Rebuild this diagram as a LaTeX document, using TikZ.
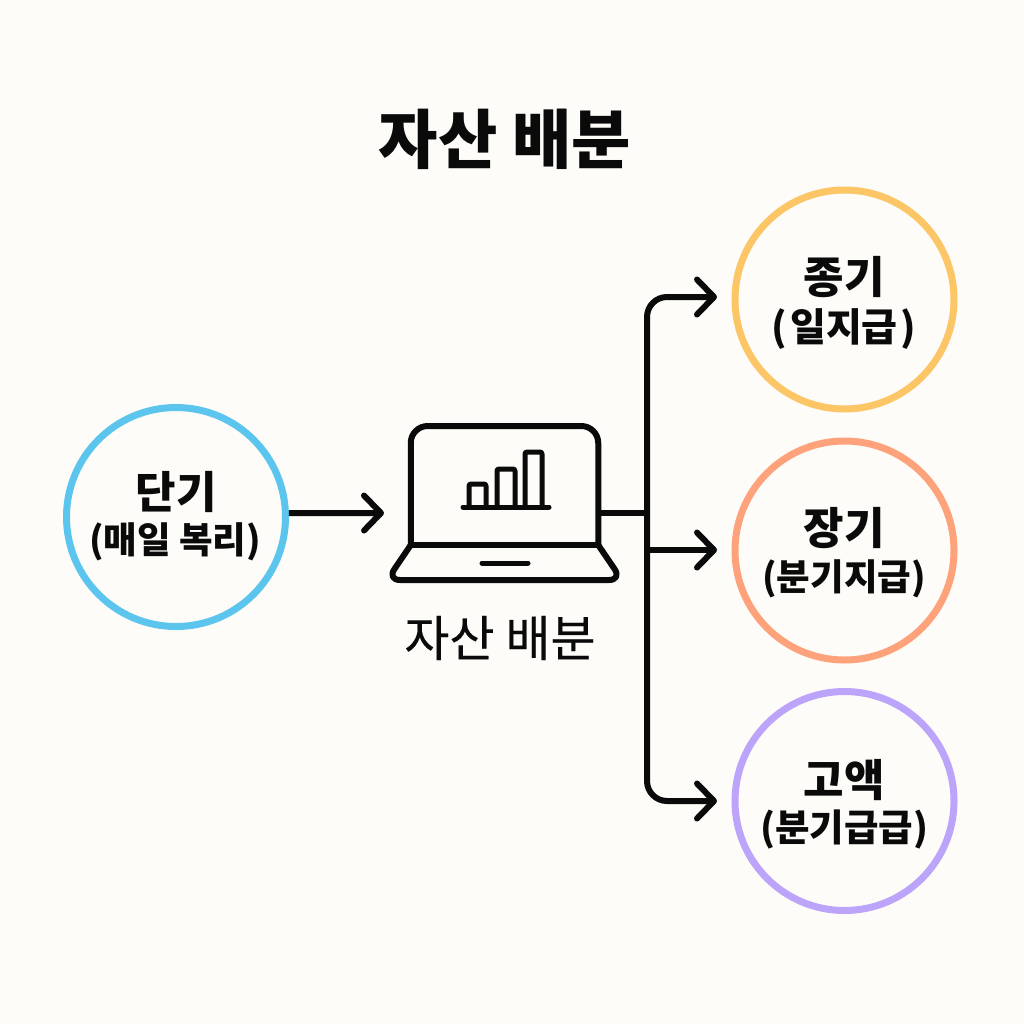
\documentclass[tikz,border=0pt]{standalone}
\usepackage{fontspec}
\setmainfont{Noto Sans CJK KR}
\newfontfamily\krlbl[FakeBold=0.25]{Noto Sans CJK KR}
\usetikzlibrary{arrows.meta}
\definecolor{paper}{HTML}{FDFCF8}
\definecolor{ink}{HTML}{0A0A0A}
\definecolor{cblue}{HTML}{5CC5EE}
\definecolor{cyellow}{HTML}{FCC566}
\definecolor{corange}{HTML}{FDA27A}
\definecolor{cpurple}{HTML}{BBA4F9}
\tikzset{
  ring/.style={circle,draw=#1,line width=7pt,minimum size=219pt,inner sep=0pt,outer sep=0pt},
  headtext/.style={font=\bfseries\fontsize{44}{44}\selectfont,text=ink,inner sep=0pt,anchor=center},
  subtext/.style={font=\bfseries\fontsize{#1}{#1}\selectfont,text=ink,inner sep=0pt,anchor=center},
  subtext/.default=36.5,
  icon/.style={draw=ink,line width=6pt,line cap=round,line join=round},
  flow/.style={draw=ink,line width=6pt,line join=round},
  barbtip/.style={-{Straight Barb[round,length=17pt,width=35pt,line width=6pt]}}
}
\begin{document}
\begin{tikzpicture}[x=1pt,y=-1pt]
\useasboundingbox (0,0) rectangle (1024,1024);
\fill[paper] (0,0) rectangle (1024,1024);
\node[font=\bfseries\fontsize{64.5}{64.5}\selectfont,text=ink,inner sep=0pt] (title) at (505,139.5) {자산 배분};
% rings
\node[ring=cblue] (short) at (176,517) {};
\node[ring=cyellow] (mid) at (844.5,299.5) {};
\node[ring=corange] (long) at (844.5,550.5) {};
\node[ring=cpurple] (big) at (844.5,801) {};
\node[headtext] (t1) at (176,492) {단기};
\node[subtext] (s1) at (175,542) {(매일 복리)};
\node[headtext] (t2) at (844,277) {종기};
\node[subtext=39] (s2) at (844,329) {(\hspace{3pt}일지급\hspace{3pt})};
\node[headtext] (t3) at (844,528) {장기};
\node[subtext] (s3) at (844,579) {(분기지급)};
\node[headtext] (t4) at (844,780) {고액};
\node[subtext=37.5] (s4) at (844,830) {(분기급급)};
% laptop
\node[rectangle,minimum width=187.5pt,minimum height=119pt,inner sep=0pt,outer sep=0pt] (screen) at (504.5,485.5) {};
\draw[icon,rounded corners=17pt] (screen.south west) -- (screen.north west) -- (screen.north east) -- (screen.south east);
\draw[icon,rounded corners=13pt] (screen.south west) -- (387,580) -- (622,580) -- (screen.south east);
\draw[icon] (screen.south west) -- (screen.south east);
\draw[icon,line width=5pt] (482,563) -- (528,563);
\draw[icon,line width=5pt] (463,507) -- (549,507);
\draw[icon,line width=5pt,rounded corners=2pt] (469,507) -- (469,484) -- (486,484) -- (486,507);
\draw[icon,line width=5pt,rounded corners=2pt] (497,507) -- (497,469) -- (515,469) -- (515,507);
\draw[icon,line width=5pt,rounded corners=2pt] (525,507) -- (525,452) -- (542,452) -- (542,507);
\node[font=\krlbl\fontsize{49}{49}\selectfont,text=ink,inner sep=0pt] (lbl) at (500,638) {자산 배분};
% connectors
\coordinate (in) at (384,513);
\coordinate (hub) at (647,513);
\coordinate (m) at (717,297);
\coordinate (l) at (717,550);
\coordinate (b) at (717,801);
\draw[flow,barbtip,shorten <=3.5pt] (short.2) -- (in);
\draw[flow] (screen.east |- hub) -- (hub);
\draw[flow,barbtip,rounded corners=20pt] (hub) -- (hub |- m) -- (m);
\draw[flow,barbtip,rounded corners=20pt] (hub) -- (hub |- b) -- (b);
\draw[flow,barbtip] (hub |- l) -- (l);
\end{tikzpicture}
\end{document}
